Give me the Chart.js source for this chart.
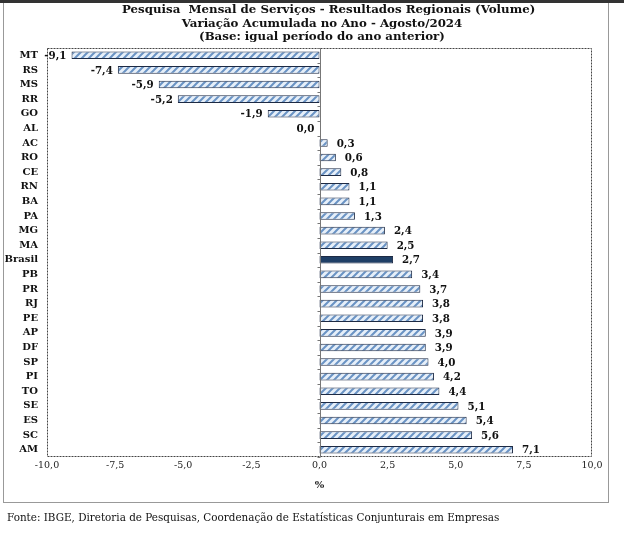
<!DOCTYPE html>
<html>
<head>
<meta charset="utf-8">
<script src="https://cdn.jsdelivr.net/npm/chart.js@4.4.1/dist/chart.umd.min.js"></script>
<style>
  body { margin: 0; background: #fff; width: 624px; height: 534px; position: relative; overflow: hidden; }
  #topbar { position: absolute; left: 0; top: 0; width: 624px; height: 3px; background: #333; }
  #frame { position: absolute; left: 3px; top: 3px; width: 604px; height: 499px; border: 1px solid #999; border-top: none; }
  #wrap { position: absolute; left: 0; top: 0; width: 624px; height: 534px; }
  #titulo { position: absolute; left: 122px; top: 3px; width: 400px; text-align: center; font-family: "DejaVu Serif", serif;
    font-weight: bold; font-size: 11.8px; line-height: 13.5px; color: #111; white-space: pre; }
  #fonte { position: absolute; left: 7px; top: 511px; font-family: "DejaVu Serif", serif; font-size: 10.4px; color: #111; }
</style>
</head>
<body>
<div id="topbar"></div>
<div id="frame"></div>
<div id="wrap"><canvas id="chart"></canvas></div>
<div id="titulo"></div>
<div id="fonte">Fonte: IBGE, Diretoria de Pesquisas, Coordenação de Estatísticas Conjunturais em Empresas</div>
<script>
const regions = ["MT", "RS", "MS", "RR", "GO", "AL", "AC", "RO", "CE", "RN", "BA", "PA", "MG", "MA",
  "Brasil", "PB", "PR", "RJ", "PE", "AP", "DF", "SP", "PI", "TO", "SE", "ES", "SC", "AM"];
const variacao = [-9.1, -7.4, -5.9, -5.2, -1.9, 0.0, 0.3, 0.6, 0.8, 1.1, 1.1, 1.3, 2.4, 2.5,
  2.7, 3.4, 3.7, 3.8, 3.8, 3.9, 3.9, 4.0, 4.2, 4.4, 5.1, 5.4, 5.6, 7.1];
const xTicks = [-10, -7.5, -5, -2.5, 0, 2.5, 5, 7.5, 10];
const titleLines = [
  "Pesquisa  Mensal de Serviços - Resultados Regionais (Volume)",
  "Variação Acumulada no Ano - Agosto/2024",
  "(Base: igual período do ano anterior)"
];

document.getElementById("titulo").textContent = titleLines.join("\n");

const serif = "'DejaVu Serif', serif";
const fmt = (v) => v.toFixed(1).replace(".", ",");

// hatched fill like the original chart
function hatch() {
  const c = document.createElement("canvas");
  c.width = 7; c.height = 7;
  const g = c.getContext("2d");
  g.fillStyle = "#e6eff9";
  g.fillRect(0, 0, 7, 7);
  g.strokeStyle = "#6a93c4";
  g.lineWidth = 2;
  g.beginPath();
  g.moveTo(-1, 8); g.lineTo(8, -1);
  g.moveTo(-5, 5); g.lineTo(5, -5);
  g.moveTo(2, 12); g.lineTo(12, 2);
  g.stroke();
  return g.createPattern(c, "repeat");
}
const pattern = hatch();

const frameAndLabels = {
  id: "frameAndLabels",
  afterDatasetsDraw(chart) {
    const { ctx, chartArea: a, scales } = chart;
    ctx.save();
    // dashed plot border
    ctx.setLineDash([2, 1]);
    ctx.strokeStyle = "#444";
    ctx.lineWidth = 1;
    ctx.strokeRect(a.left + 0.5, a.top + 0.5, a.right - a.left - 1, a.bottom - a.top - 1);
    ctx.setLineDash([]);
    // zero axis with small ticks
    const x0 = Math.round(scales.x.getPixelForValue(0)) + 0.5;
    ctx.strokeStyle = "#777";
    ctx.beginPath();
    ctx.moveTo(x0, a.top); ctx.lineTo(x0, a.bottom);
    const step = (a.bottom - a.top) / regions.length;
    for (let i = 0; i <= regions.length; i++) {
      const y = Math.round(a.top + i * step) + 0.5;
      ctx.moveTo(x0 - 3, y); ctx.lineTo(x0, y);
    }
    ctx.stroke();
    // value labels
    ctx.font = "bold 10.3px " + serif;
    ctx.fillStyle = "#111";
    ctx.textBaseline = "middle";
    chart.getDatasetMeta(0).data.forEach((bar, i) => {
      const v = variacao[i];
      if (v > 0) {
        ctx.textAlign = "left";
        ctx.fillText(fmt(v), bar.x + 9, bar.y + 1);
      } else {
        ctx.textAlign = "right";
        ctx.fillText(fmt(v), bar.x - 5, bar.y + 1);
      }
    });
    ctx.restore();
  }
};

new Chart(document.getElementById("chart"), {
  type: "bar",
  data: {
    labels: regions,
    datasets: [{
      data: variacao,
      backgroundColor: regions.map((r) => r === "Brasil" ? "#1f3f66" : pattern),
      borderColor: "#1d2a44",
      borderWidth: 1,
      borderSkipped: false,
      barPercentage: 0.52,
      categoryPercentage: 1
    }]
  },
  options: {
    indexAxis: "y",
    responsive: true,
    maintainAspectRatio: false,
    animation: false,
    layout: { padding: { left: 0, right: 32, top: 48, bottom: 43 } },
    plugins: {
      legend: { display: false },
      tooltip: { enabled: false },
      title: { display: false }
    },
    scales: {
      x: {
        min: -10,
        max: 10,
        afterBuildTicks: (s) => { s.ticks = xTicks.map((v) => ({ value: v })); },
        afterFit: (s) => { s.height = 34; },
        grid: { display: false, drawTicks: false },
        border: { display: false },
        ticks: {
          color: "#222",
          padding: 3,
          maxRotation: 0,
          font: { family: serif, size: 9.5 },
          callback: (v) => fmt(v)
        },
        title: { display: true, text: "%", color: "#222", font: { family: serif, size: 10, weight: "bold" }, padding: { top: 0, bottom: 0 } }
      },
      y: {
        afterFit: (s) => { s.width = 47; },
        grid: { display: false, drawTicks: false },
        border: { display: false },
        ticks: {
          color: "#111",
          padding: 9,
          autoSkip: false,
          font: { family: serif, size: 10, weight: "bold" }
        }
      }
    }
  },
  plugins: [frameAndLabels]
});
</script>
</body>
</html>
